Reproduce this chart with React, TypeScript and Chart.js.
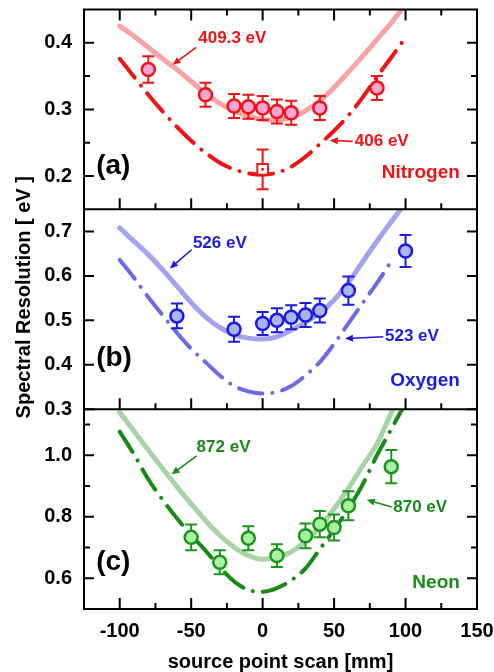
import React, { useEffect, useRef } from "react";
import { Chart, registerables } from "chart.js";

Chart.register(...registerables);

const FONT = "'Liberation Sans', Arial, Helvetica, sans-serif";

// ---------- fitted curves (x in mm) ----------
const curveX = [-100, -90, -80, -70, -60, -50, -40, -30, -20, -10, 0, 10, 20, 30, 40, 50, 60, 70, 80, 90, 100];
const n409Fit = [0.425, 0.41, 0.393, 0.376, 0.36, 0.342, 0.324, 0.309, 0.298, 0.29, 0.285, 0.284, 0.288, 0.298, 0.313, 0.333, 0.356, 0.38, 0.405, 0.43, 0.457];
const n406Fit = [0.376, 0.349, 0.322, 0.297, 0.274, 0.253, 0.235, 0.22, 0.21, 0.204, 0.202, 0.205, 0.214, 0.229, 0.248, 0.268, 0.291, 0.318, 0.349, 0.378, 0.408];
const o526Fit = [0.708, 0.678, 0.648, 0.614, 0.577, 0.54, 0.508, 0.484, 0.468, 0.46, 0.458, 0.463, 0.478, 0.496, 0.517, 0.546, 0.585, 0.632, 0.678, 0.722, 0.765];
const o523Fit = [0.636, 0.596, 0.552, 0.512, 0.472, 0.436, 0.406, 0.376, 0.352, 0.34, 0.335, 0.339, 0.352, 0.376, 0.406, 0.447, 0.493, 0.539, 0.584, 0.633, null];
const ne872Fit = [1.14, 1.078, 1.017, 0.957, 0.898, 0.842, 0.788, 0.74, 0.701, 0.674, 0.662, 0.667, 0.686, 0.72, 0.766, 0.826, 0.892, 0.966, 1.037, 1.138, 1.24];
const ne870Fit = [1.077, 1.003, 0.922, 0.855, 0.795, 0.74, 0.69, 0.636, 0.59, 0.562, 0.556, 0.568, 0.593, 0.632, 0.695, 0.758, 0.826, 0.905, 1.0, 1.085, 1.17];

// ---------- measured points ----------
const nX = [-80, -40, -20, -10, 0, 10, 20, 40, 80];
const nY = [0.36, 0.322, 0.305, 0.304, 0.302, 0.297, 0.295, 0.302, 0.332];
const nErr = [0.02, 0.018, 0.018, 0.018, 0.018, 0.018, 0.018, 0.018, 0.018];
const nRefX = [0];
const nRefY = [0.21];
const nRefErr = [0.03];

const oX = [-60, -20, 0, 10, 20, 30, 40, 60, 100];
const oY = [0.51, 0.48, 0.493, 0.5, 0.507, 0.512, 0.522, 0.567, 0.656];
const oErr = [0.028, 0.028, 0.026, 0.027, 0.027, 0.027, 0.027, 0.032, 0.036];

const neX = [-50, -30, -10, 10, 30, 40, 50, 60, 90];
const neY = [0.733, 0.652, 0.73, 0.674, 0.738, 0.776, 0.765, 0.836, 0.963];
const neErr = [0.042, 0.039, 0.039, 0.037, 0.04, 0.043, 0.042, 0.047, 0.054];

// ---------- ticks ----------
const xTicks = [-100, -50, 0, 50, 100, 150];
const xMinor = [-75, -25, 25, 75, 125];
const yTicksA = [0.2, 0.3, 0.4];
const yMinorA = [0.25, 0.35];
const yTicksB = [0.3, 0.4, 0.5, 0.6, 0.7];
const yMinorB: number[] = [];
const yTicksC = [0.6, 0.8, 1.0];
const yMinorC = [0.7, 0.9, 1.1];

// ---------- colours ----------
const RED = "#EE1414";
const RED_FIT = "#F6A4A4";
const RED_FILL = "#F7A6D6";
const BLUE = "#1A1AE0";
const BLUE_FIT = "#A3A3F0";
const BLUE_DASH = "#6B6BE8";
const BLUE_FILL = "#A9B6F2";
const GREEN = "#1A961A";
const GREEN_FIT = "#A5D5A5";
const GREEN_DASH = "#178A17";
const GREEN_FILL = "#AAF0A2";

// ---------- annotations (data coordinates) ----------
const labels = [
  { text: "409.3 eV", axis: "yA", x: -45, y: 0.407, color: RED, size: 17, align: "left" },
  { text: "406 eV", axis: "yA", x: 64.5, y: 0.252, color: RED, size: 17, align: "left" },
  { text: "Nitrogen", axis: "yA", x: 138, y: 0.2045, color: RED, size: 19, align: "right" },
  { text: "(a)", axis: "yA", x: -116.5, y: 0.2145, color: "#000", size: 28, align: "left" },
  { text: "526 eV", axis: "yB", x: -48.8, y: 0.674, color: BLUE, size: 17, align: "left" },
  { text: "523 eV", axis: "yB", x: 85.6, y: 0.463, color: BLUE, size: 17, align: "left" },
  { text: "Oxygen", axis: "yB", x: 138, y: 0.363, color: BLUE, size: 19, align: "right" },
  { text: "(b)", axis: "yB", x: -116.5, y: 0.414, color: "#000", size: 28, align: "left" },
  { text: "872 eV", axis: "yC", x: -46.2, y: 1.025, color: GREEN_DASH, size: 17, align: "left" },
  { text: "870 eV", axis: "yC", x: 91.4, y: 0.832, color: GREEN_DASH, size: 17, align: "left" },
  { text: "Neon", axis: "yC", x: 138, y: 0.585, color: GREEN_DASH, size: 19, align: "right" },
  { text: "(c)", axis: "yC", x: -116.5, y: 0.652, color: "#000", size: 28, align: "left" },
];
const arrows = [
  { axis: "yA", from: [-46.5, 0.393], to: [-63, 0.367], color: RED },
  { axis: "yA", from: [63, 0.252], to: [47, 0.2535], color: RED },
  { axis: "yB", from: [-49.7, 0.659], to: [-64.9, 0.617], color: BLUE },
  { axis: "yB", from: [84.4, 0.463], to: [57.6, 0.459], color: BLUE },
  { axis: "yC", from: [-46.2, 0.998], to: [-63.7, 0.938], color: GREEN_DASH },
  { axis: "yC", from: [90.3, 0.832], to: [72.8, 0.855], color: GREEN_DASH },
];

const toXY = (xs: number[], ys: (number | null)[]) => xs.map((x, i) => ({ x, y: ys[i] }));

const fitLine = (data: any, axis: string, color: string, width: number) => ({
  type: "line",
  data,
  yAxisID: axis,
  borderColor: color,
  borderWidth: width,
  pointRadius: 0,
  fill: false,
  cubicInterpolationMode: "monotone",
  borderCapStyle: "round",
  borderJoinStyle: "round",
  order: 2,
});
const dashLine = (data: any, axis: string, color: string) => ({
  ...fitLine(data, axis, color, 4),
  borderDash: [24, 10, 0.1, 10],
});
const pointSet = (data: any, axis: string, border: string, fill: string, errors: number[]) => ({
  type: "line",
  data,
  yAxisID: axis,
  showLine: false,
  pointRadius: 6.5,
  pointBorderWidth: 2.5,
  pointBorderColor: border,
  pointBackgroundColor: fill,
  errors,
  errorColor: border,
  order: 0,
});

const panelPlugin = {
  id: "panelPlugin",
  beforeDatasetDraw(chart: any, args: any) {
    const { ctx, chartArea } = chart;
    const meta = args.meta;
    const ys = meta.yScale;
    ctx.save();
    ctx.beginPath();
    ctx.rect(chartArea.left, ys.top, chartArea.right - chartArea.left, ys.bottom - ys.top);
    ctx.clip();
    const ds = chart.data.datasets[args.index];
    if (ds.errors) {
      ctx.strokeStyle = ds.errorColor;
      ctx.lineWidth = 2;
      ds.data.forEach((p: any, i: number) => {
        const el = meta.data[i];
        if (!el) return;
        const x = el.x;
        const y1 = ys.getPixelForValue(p.y + ds.errors[i]);
        const y2 = ys.getPixelForValue(p.y - ds.errors[i]);
        ctx.beginPath();
        ctx.moveTo(x, y1);
        ctx.lineTo(x, y2);
        ctx.moveTo(x - 6, y1);
        ctx.lineTo(x + 6, y1);
        ctx.moveTo(x - 6, y2);
        ctx.lineTo(x + 6, y2);
        ctx.stroke();
      });
    }
  },
  afterDatasetDraw(chart: any) {
    chart.ctx.restore();
  },
};

const framePlugin = {
  id: "framePlugin",
  afterDatasetsDraw(chart: any) {
    const { ctx, chartArea, scales } = chart;
    const xs = scales.x;
    const panels = [
      { s: scales.yA, major: yTicksA, minor: yMinorA, top: true },
      { s: scales.yB, major: yTicksB, minor: yMinorB, top: false },
      { s: scales.yC, major: yTicksC, minor: yMinorC, top: false },
    ];
    ctx.save();
    ctx.strokeStyle = "#000";
    ctx.lineWidth = 2;
    ctx.beginPath();
    for (const p of panels) {
      const s = p.s;
      const tick = (v: number, len: number) => {
        const x = xs.getPixelForValue(v);
        ctx.moveTo(x, s.bottom);
        ctx.lineTo(x, s.bottom - len);
        if (p.top) {
          ctx.moveTo(x, s.top);
          ctx.lineTo(x, s.top + len);
        }
      };
      xTicks.forEach((v) => tick(v, 11));
      xMinor.forEach((v) => tick(v, 6));
      const ytick = (v: number, len: number) => {
        const y = s.getPixelForValue(v);
        ctx.moveTo(chartArea.left, y);
        ctx.lineTo(chartArea.left + len, y);
        ctx.moveTo(chartArea.right, y);
        ctx.lineTo(chartArea.right - len, y);
      };
      p.major.forEach((v) => ytick(v, 10));
      p.minor.forEach((v) => ytick(v, 6));
    }
    ctx.stroke();
    ctx.beginPath();
    ctx.rect(chartArea.left, chartArea.top, chartArea.right - chartArea.left, chartArea.bottom - chartArea.top);
    ctx.moveTo(chartArea.left, scales.yA.bottom);
    ctx.lineTo(chartArea.right, scales.yA.bottom);
    ctx.moveTo(chartArea.left, scales.yB.bottom);
    ctx.lineTo(chartArea.right, scales.yB.bottom);
    ctx.stroke();
    ctx.restore();
  },
  afterDraw(chart: any) {
    const { ctx, chartArea, scales } = chart;
    const xs = scales.x;
    ctx.save();
    for (const a of arrows) {
      const ys = scales[a.axis];
      const x1 = xs.getPixelForValue(a.from[0]);
      const y1 = ys.getPixelForValue(a.from[1]);
      const x2 = xs.getPixelForValue(a.to[0]);
      const y2 = ys.getPixelForValue(a.to[1]);
      const ang = Math.atan2(y2 - y1, x2 - x1);
      const hl = 8;
      const hw = 3.5;
      const bx = x2 - hl * Math.cos(ang);
      const by = y2 - hl * Math.sin(ang);
      ctx.strokeStyle = a.color;
      ctx.fillStyle = a.color;
      ctx.lineWidth = 1.6;
      ctx.beginPath();
      ctx.moveTo(x1, y1);
      ctx.lineTo(bx, by);
      ctx.stroke();
      ctx.beginPath();
      ctx.moveTo(x2, y2);
      ctx.lineTo(bx - hw * Math.sin(ang), by + hw * Math.cos(ang));
      ctx.lineTo(bx + hw * Math.sin(ang), by - hw * Math.cos(ang));
      ctx.closePath();
      ctx.fill();
    }
    ctx.textBaseline = "middle";
    for (const l of labels) {
      const ys = scales[l.axis];
      ctx.font = `bold ${l.size}px ${FONT}`;
      ctx.fillStyle = l.color;
      ctx.textAlign = l.align as CanvasTextAlign;
      ctx.fillText(l.text, xs.getPixelForValue(l.x), ys.getPixelForValue(l.y));
    }
    // y-axis title
    ctx.font = `bold 20px ${FONT}`;
    ctx.fillStyle = "#000";
    ctx.textAlign = "center";
    ctx.translate(24, (chartArea.top + chartArea.bottom) / 2 - 12);
    ctx.rotate(-Math.PI / 2);
    ctx.fillText("Spectral Resolution [ eV ]", 0, 0);
    ctx.restore();
  },
};

const tickFont = { family: FONT, size: 20, weight: "bold" as const };

const yScale = (min: number, max: number, ticks: number[]) => ({
  type: "linear",
  position: "left",
  stack: "panels",
  stackWeight: 1,
  min,
  max,
  grid: { display: false, drawTicks: false },
  border: { display: false },
  afterBuildTicks: (s: any) => {
    s.ticks = ticks.map((v) => ({ value: v }));
  },
  afterFit: (s: any) => {
    s.width = 84;
    s.paddingTop = 0;
    s.paddingBottom = 0;
  },
  ticks: {
    font: tickFont,
    color: "#000",
    padding: 12,
    autoSkip: false,
    callback: (v: any) => Number(v).toFixed(1),
  },
});

export default function App() {
  const ref = useRef<HTMLCanvasElement | null>(null);
  useEffect(() => {
    if (!ref.current) return;
    const datasets: any[] = [
      pointSet(toXY(nX, nY), "yA", RED, RED_FILL, nErr),
      {
        ...pointSet(toXY(nRefX, nRefY), "yA", RED, "#FFFFFF", nRefErr),
        pointStyle: "rect",
        pointRadius: 7.5,
        pointBorderWidth: 2,
      },
      {
        type: "line",
        data: toXY(nRefX, nRefY),
        yAxisID: "yA",
        showLine: false,
        pointRadius: 1.5,
        pointBorderWidth: 0,
        pointBackgroundColor: RED,
        order: -1,
      },
      pointSet(toXY(oX, oY), "yB", BLUE, BLUE_FILL, oErr),
      pointSet(toXY(neX, neY), "yC", GREEN, GREEN_FILL, neErr),
      fitLine(toXY(curveX, n409Fit), "yA", RED_FIT, 5),
      dashLine(toXY(curveX, n406Fit), "yA", RED),
      fitLine(toXY(curveX, o526Fit), "yB", BLUE_FIT, 5),
      dashLine(toXY(curveX, o523Fit), "yB", BLUE_DASH),
      fitLine(toXY(curveX, ne872Fit), "yC", GREEN_FIT, 5),
      dashLine(toXY(curveX, ne870Fit), "yC", GREEN_DASH),
    ];
    const chart = new Chart(ref.current, {
      type: "line",
      data: { datasets },
      options: {
        responsive: false,
        maintainAspectRatio: false,
        animation: false,
        layout: { padding: { left: 0, right: 17, top: 9, bottom: 0 } },
        plugins: { legend: { display: false }, tooltip: { enabled: false } },
        scales: {
          x: {
            type: "linear",
            position: "bottom",
            min: -125,
            max: 150,
            grid: { display: false, drawTicks: false },
            border: { display: false },
            afterBuildTicks: (s: any) => {
              s.ticks = xTicks.map((v) => ({ value: v }));
            },
            afterFit: (s: any) => {
              s.height = 63;
              s.paddingLeft = 0;
              s.paddingRight = 0;
            },
            ticks: {
              font: tickFont,
              color: "#000",
              padding: 10,
              autoSkip: false,
              maxRotation: 0,
              callback: (v: any) => String(v),
            },
            title: {
              display: true,
              text: "source point scan [mm]",
              color: "#000",
              font: { family: FONT, size: 20, weight: "bold", lineHeight: 1 },
              padding: { top: 0, bottom: 0 },
            },
          },
          yC: yScale(0.5, 1.15, yTicksC),
          yB: yScale(0.3, 0.75, yTicksB),
          yA: yScale(0.15, 0.45, yTicksA),
        } as any,
      } as any,
      plugins: [panelPlugin, framePlugin],
    } as any);
    return () => chart.destroy();
  }, []);
  return (
    <div style={{ position: "absolute", left: 0, top: 0, width: 494, height: 672, background: "#fff" }}>
      <canvas ref={ref} width={494} height={672} style={{ display: "block" }} />
    </div>
  );
}
